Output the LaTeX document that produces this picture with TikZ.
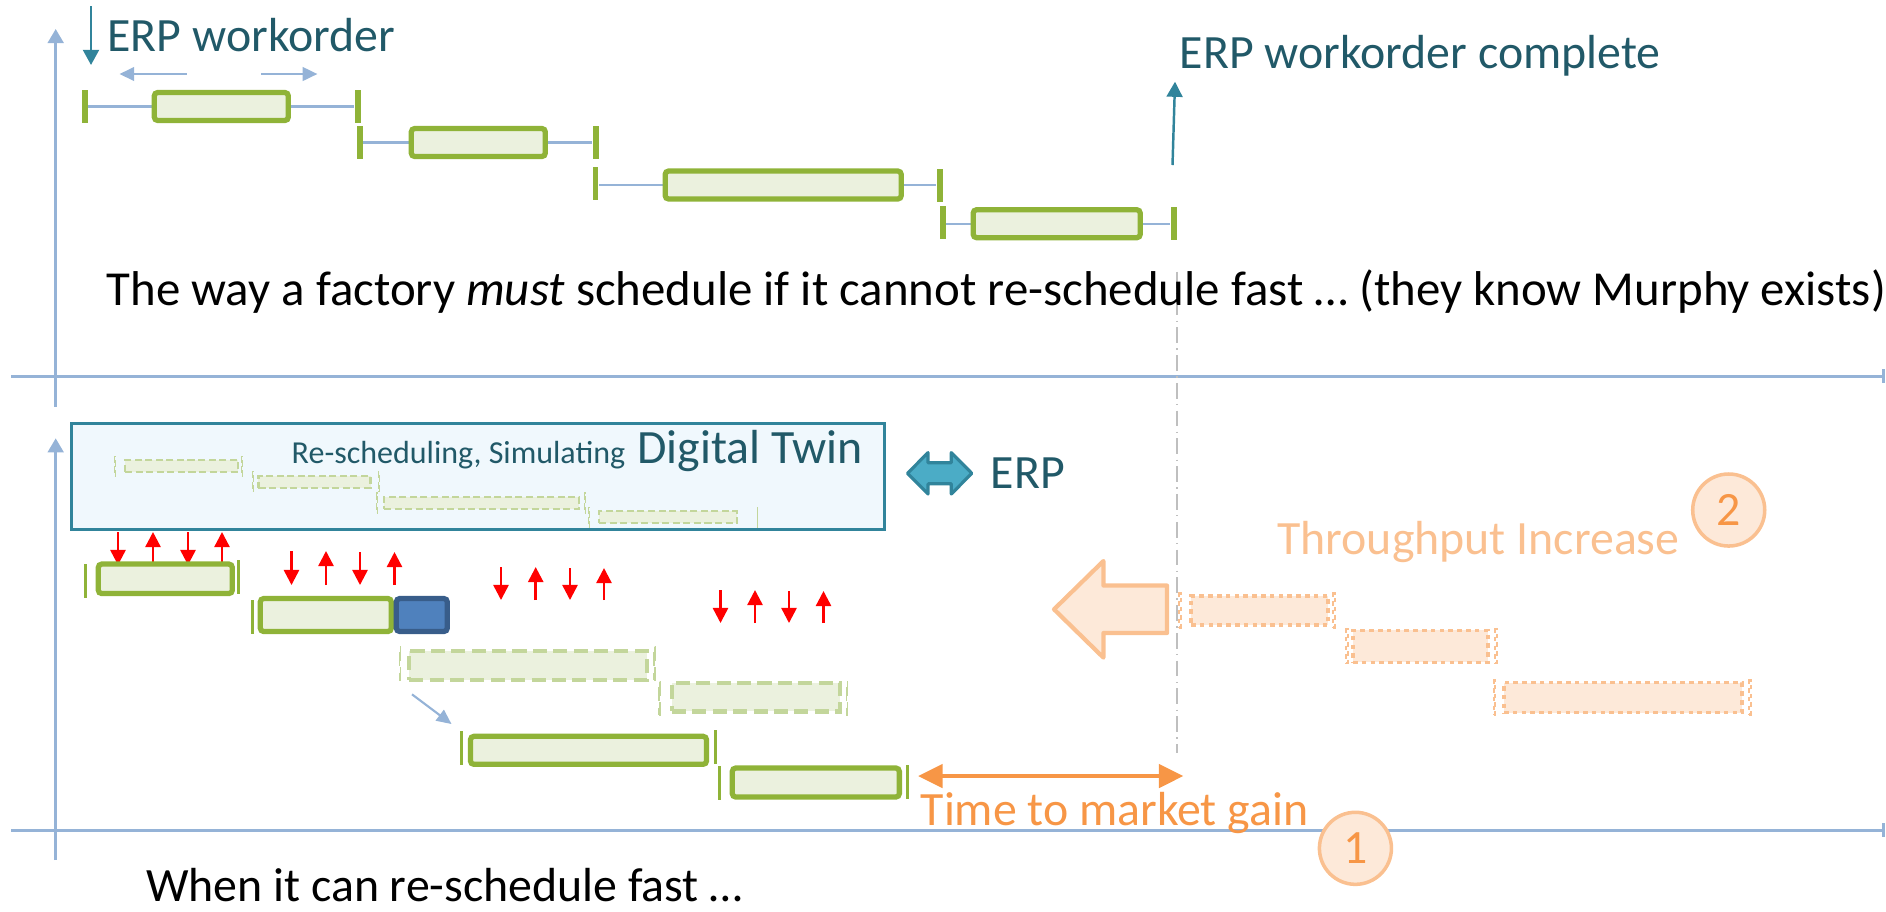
\documentclass[tikz,border=0pt]{standalone}
\usepackage{fontspec}
\setmainfont{Carlito}
\usepackage{xcolor}
\usepackage{tikz}
\usetikzlibrary{arrows.meta}
\definecolor{axis}{RGB}{149,179,215}
\definecolor{wgreen}{RGB}{143,179,56}
\definecolor{wfill}{RGB}{235,241,222}
\definecolor{ghost}{RGB}{195,214,155}
\definecolor{twin}{RGB}{240,248,253}
\definecolor{erpline}{RGB}{49,132,155}
\definecolor{erptext}{RGB}{33,89,104}
\definecolor{erpfill}{RGB}{75,172,198}
\definecolor{late}{RGB}{79,129,189}
\definecolor{lateline}{RGB}{56,93,138}
\definecolor{gain}{RGB}{247,150,70}
\definecolor{gainline}{RGB}{250,192,144}
\definecolor{gainfill}{RGB}{253,233,217}
\definecolor{guide}{RGB}{191,191,191}
\newcommand{\slidefont}{\fontsize{13.6}{16}\selectfont}
\newcommand{\captionfont}{\fontsize{13.9}{16}\selectfont}
\newcommand{\smallslidefont}{\fontsize{9.1}{11}\selectfont}

\begin{document}
\begin{tikzpicture}[x=0.01cm,y=-0.01cm,
		axisline/.style={color=axis,line width=0.7pt},
		whisker/.style={color=axis,line width=0.6pt},
		slack/.style={color=axis,line width=0.8pt,-{Triangle[length=4.2pt,width=3.8pt]}},
		erparrow/.style={color=erpline,line width=0.7pt,-{Triangle[length=4.3pt,width=4.5pt]}},
		tick/.style={fill=wgreen,inner sep=0pt,minimum width=0.055cm,minimum height=0.33cm},
		thintick/.style={fill=wgreen,inner sep=0pt,minimum width=0.03cm,minimum height=0.34cm},
		bar/.style={draw=wgreen,fill=wfill,line width=1.5pt,rounded corners=1pt,inner sep=0pt,minimum height=0.28cm},
		ghostbar/.style={draw=ghost,fill=wfill,line width=1.2pt,dash pattern=on 4pt off 1.8pt,inner sep=0pt,minimum height=0.285cm},
		ghosttick/.style={draw=ghost,line width=0.5pt,dash pattern=on 4pt off 1.8pt,inner sep=0pt,minimum width=0.012cm,minimum height=0.33cm},
		twinbar/.style={draw=ghost,fill=wfill,line width=0.6pt,dash pattern=on 2pt off 1pt,inner sep=0pt,minimum height=0.12cm},
		twintick/.style={draw=ghost,line width=0.3pt,dash pattern=on 2pt off 1pt,inner sep=0pt,minimum width=0.008cm,minimum height=0.2cm},
		gainbar/.style={draw=gainline,fill=gainfill,line width=1pt,dash pattern=on 1.3pt off 1.2pt,inner sep=0pt,minimum height=0.29cm},
		gaintick/.style={draw=gainline,line width=0.6pt,dash pattern=on 1.3pt off 1.2pt,inner sep=0pt,minimum width=0.012cm,minimum height=0.34cm},
		redarrow/.style={color=red,line width=0.7pt,-{Triangle[length=4.3pt,width=4.3pt]}},
		badge/.style={circle,draw=gainline,fill=gainfill,line width=1pt,inner sep=0pt,minimum size=0.72cm,text=gain,font=\slidefont},
		lbl/.style={anchor=base west,inner sep=0pt,font=\slidefont}]
	\useasboundingbox (0,0) rectangle (1886,911);
	
	\coordinate (o1) at (55.7,406.7);%upper chart
	\coordinate (y1) at (55.7,29);
	\coordinate (x0) at (11,376);
	\coordinate (x1) at (1885,376);
	\coordinate (o2) at (55.7,860);%lower chart
	\coordinate (y2) at (55.7,438.3);
	\coordinate (x2) at (11,830);
	\coordinate (x3) at (1885,830);
	\draw[axisline,-{Triangle[length=4pt,width=4.5pt]}] (o1) -- (y1);
	\draw[axisline,line width=0.85pt,-{Bar[width=3.8pt]}] (x0) -- (x1);
	\draw[axisline,-{Triangle[length=4pt,width=4.5pt]}] (o2) -- (y2);
	\draw[axisline,line width=0.85pt,-{Bar[width=3.8pt]}] (x2) -- (x3);
	
	\coordinate (d0) at (1177,271.7);%end of the slow plan
	\coordinate (d1) at (1177,753.3);
	\draw[color=guide,line width=0.45pt,dash pattern=on 4.5pt off 1.5pt on 0.4pt off 1.5pt] (d0) -- (d1);
	
	% upper chart: the slow plan
	\coordinate (e0) at (91,6);
	\coordinate (e1) at (91,65);
	\coordinate (e2) at (1172.5,165);
	\coordinate (e3) at (1175,81.7);
	\coordinate (s0) at (186.6,74);
	\coordinate (s1) at (119.4,74);
	\coordinate (s2) at (261,74);
	\coordinate (s3) at (317.5,74);
	\draw[erparrow] (e0) -- (e1);
	\draw[erparrow] (e2) -- (e3);
	\draw[slack] (s0) -- (s1);
	\draw[slack] (s2) -- (s3);
	\node[lbl,text=erptext] (wo) at (106.8,51.7) {ERP workorder};
	\node[lbl,text=erptext] (wc) at (1179.2,68.3) {ERP workorder complete};
	
	\node[tick] (t1a) at (85,106.5) {};
	\node[tick] (t1b) at (357.8,106.5) {};
	\node[tick] (t2a) at (359.8,142.5) {};
	\node[tick] (t2b) at (595.9,142.5) {};
	\node[tick] (t3a) at (595.7,183) {};
	\node[tick] (t3b) at (939.9,185) {};
	\node[tick] (t4a) at (943,222.5) {};
	\node[tick] (t4b) at (1173.8,223.7) {};
	\draw[whisker] (t1a) -- (t1b);
	\draw[whisker] (t2a) -- (t2b);
	\draw[whisker] (t3a.east|-t3b) -- (t3b);
	\draw[whisker] (t4a.east|-t4b) -- (t4b);
	\node[bar,minimum width=1.34cm] (w1) at (221.3,106.5) {};
	\node[bar,minimum width=1.34cm] (w2) at (478.3,142.5) {};
	\node[bar,minimum width=2.36cm] (w3) at (783.2,185) {};
	\node[bar,minimum width=1.67cm] (w4) at (1056.7,223.7) {};
	
	\node[lbl,font=\captionfont] (cap1) at (106,305) {The way a factory \textit{must} schedule if it cannot re-schedule fast … (they know Murphy exists)};
	
	% lower chart: the digital twin
	\node[draw=erpline,fill=twin,line width=0.85pt,inner sep=0pt,minimum width=8.13cm,minimum height=1.06cm] (twin) at (477.9,476.2) {};
	\node[twinbar,minimum width=1.13cm] (p1) at (181.7,466.3) {};
	\node[twinbar,minimum width=1.12cm] (p2) at (314.5,481.7) {};
	\node[twinbar,minimum width=1.95cm] (p3) at (481.5,503) {};
	\node[twinbar,minimum width=1.38cm] (p4) at (668,517.3) {};
	\node[twintick] (p1a) at (115,466.3) {};
	\node[twintick] (p1b) at (242,466.3) {};
	\node[twintick] (p2a) at (253,481.7) {};
	\node[twintick] (p2b) at (378.8,481.7) {};
	\node[twintick] (p3a) at (377,503) {};
	\node[twintick] (p3b) at (585,503) {};
	\node[twintick] (p4a) at (589,517.3) {};
	\node[twintick] (p4b) at (757.5,517.3) {};
	\node[anchor=base east,inner sep=0pt,text=erptext] (twl) at (863.6,463.5) {\smallslidefont Re-scheduling, Simulating\hspace{3.4pt}\slidefont Digital Twin};
	
	\filldraw[fill=erpfill,draw=erpline,line width=0.9pt,line join=round] (907.5,473.3) -- (928,452.6) -- (928,462.8) -- (951.3,462.8) -- (951.3,452.6) -- (971.8,473.3) -- (951.3,494) -- (951.3,483.8) -- (928,483.8) -- (928,494) -- cycle;
	\node[lbl,text=erptext] (erp) at (990,488.3) {ERP};
	
	\coordinate (g1b) at (0,565);
	\coordinate (g2b) at (0,585);
	\coordinate (g3b) at (0,600);
	\coordinate (g4b) at (0,623);
	\coordinate (r11) at (118,532);
	\coordinate (r12) at (153,532);
	\coordinate (r13) at (188,532);
	\coordinate (r14) at (222,532);
	\coordinate (r21) at (291.5,551);
	\coordinate (r22) at (326,551);
	\coordinate (r23) at (360,552);
	\coordinate (r24) at (394.5,552);
	\coordinate (r31) at (501,567);
	\coordinate (r32) at (535.7,567);
	\coordinate (r33) at (570,568);
	\coordinate (r34) at (604,568);
	\coordinate (r41) at (720.5,590);
	\coordinate (r42) at (755,590);
	\coordinate (r43) at (789,591);
	\coordinate (r44) at (823.5,591);
	\draw[redarrow] (r11) -- (r11|-g1b);
	\draw[redarrow] (r12|-g1b) -- (r12);
	\draw[redarrow] (r13) -- (r13|-g1b);
	\draw[redarrow] (r14|-g1b) -- (r14);
	\draw[redarrow] (r21) -- (r21|-g2b);
	\draw[redarrow] (r22|-g2b) -- (r22);
	\draw[redarrow] (r23) -- (r23|-g2b);
	\draw[redarrow] (r24|-g2b) -- (r24);
	\draw[redarrow] (r31) -- (r31|-g3b);
	\draw[redarrow] (r32|-g3b) -- (r32);
	\draw[redarrow] (r33) -- (r33|-g3b);
	\draw[redarrow] (r34|-g3b) -- (r34);
	\draw[redarrow] (r41) -- (r41|-g4b);
	\draw[redarrow] (r42|-g4b) -- (r42);
	\draw[redarrow] (r43) -- (r43|-g4b);
	\draw[redarrow] (r44|-g4b) -- (r44);
	
	\node[thintick] (a0) at (85.4,580.5) {};
	\node[thintick] (a1) at (238,576.5) {};
	\node[bar,minimum width=1.34cm,minimum height=0.295cm] (a) at (165.3,578.8) {};
	\node[thintick] (b0) at (252,617) {};
	\node[bar,minimum width=1.31cm,minimum height=0.33cm] (b) at (325.8,615) {};
	\node[draw=lateline,fill=late,line width=1.5pt,rounded corners=1pt,inner sep=0pt,minimum width=0.51cm,minimum height=0.33cm] (bl) at (421.8,615) {};
	\node[ghosttick] (c0) at (400,663.3) {};
	\node[ghosttick] (c1) at (654.5,663.3) {};
	\node[ghostbar,minimum width=2.38cm] (c) at (528.3,665.5) {};
	\node[ghosttick] (f0) at (659.3,698.3) {};
	\node[ghosttick] (f1) at (847,698.3) {};
	\node[ghostbar,minimum width=1.68cm] (f) at (756,697.2) {};
	\coordinate (m0) at (412,694.3);
	\coordinate (m1) at (451.5,724);
	\draw[slack,line width=0.6pt] (m0) -- (m1);
	\node[thintick] (h0) at (461.8,748.3) {};
	\node[thintick] (h1) at (715,747) {};
	\node[bar,minimum width=2.36cm] (h) at (588.5,750.3) {};
	\node[thintick] (k0) at (719,782.8) {};
	\node[thintick] (k1) at (907.8,782) {};
	\node[bar,minimum width=1.67cm,minimum height=0.29cm] (k) at (815.8,782.5) {};
	
	% gains
	\coordinate (q0) at (917.9,776);
	\coordinate (q1) at (1183.5,776);
	\draw[color=gain,line width=1.4pt,{Triangle[length=7pt,width=6.5pt]}-{Triangle[length=7pt,width=6.5pt]}] (q0) -- (q1);
	\node[lbl,text=gain] (ttm) at (920,825) {Time to market gain};
	\node[badge] (n1) at (1355.4,848.3) {1};
	
	\filldraw[fill=gainfill,draw=gainline,line width=1.2pt,line join=round] (1054,609.3) -- (1103.4,561) -- (1103.4,585.5) -- (1167,585.5) -- (1167,633) -- (1103.4,633) -- (1103.4,657.6) -- cycle;
	\node[gaintick] (u0) at (1180,610.5) {};
	\node[gaintick] (u1) at (1334,610.5) {};
	\node[gainbar,minimum width=1.37cm] (u) at (1259.5,610.5) {};
	\node[gaintick] (v0) at (1347,646.3) {};
	\node[gaintick] (v1) at (1496,646.3) {};
	\node[gainbar,minimum width=1.35cm,minimum height=0.32cm] (v) at (1420.5,646.3) {};
	\node[gaintick] (z0) at (1494.5,697.5) {};
	\node[gaintick] (z1) at (1750,697.5) {};
	\node[gainbar,minimum width=2.38cm,minimum height=0.3cm] (z) at (1623,697.5) {};
	\node[lbl,text=gainline] (thr) at (1276.7,554) {Throughput Increase};
	\node[badge] (n2) at (1728.7,510) {2};
	
	\node[lbl] (cap2) at (145.4,901.7) {When it can re-schedule fast …};
\end{tikzpicture}
\end{document}
